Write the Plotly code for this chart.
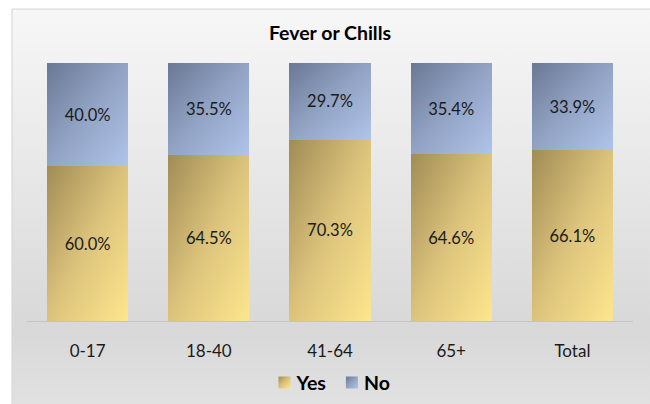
import plotly.graph_objects as go

# Share of respondents reporting fever or chills, by age group
age_groups = ["0-17", "18-40", "41-64", "65+", "Total"]
yes_pct = [60.0, 64.5, 70.3, 64.6, 66.1]
no_pct = [40.0, 35.5, 29.7, 35.4, 33.9]

FONT = "Lato, Carlito, 'Open Sans', sans-serif"

fig = go.Figure()
fig.add_trace(go.Bar(
    name="Yes", x=age_groups, y=yes_pct,
    marker=dict(color="#d6bf78", line=dict(width=0)),
    text=[f"{v:.1f}%" for v in yes_pct],
    textposition="inside", insidetextanchor="middle",
    textfont=dict(family=FONT, size=16.5, color="#1a1a1a"),
))
fig.add_trace(go.Bar(
    name="No", x=age_groups, y=no_pct,
    marker=dict(color="#8f9fc0", line=dict(width=0)),
    text=[f"{v:.1f}%" for v in no_pct],
    textposition="inside", insidetextanchor="middle",
    textfont=dict(family=FONT, size=16.5, color="#1a1a1a"),
))

# Chart-area panel behind everything (gradient applied in the browser)
fig.add_shape(
    type="rect", xref="paper", yref="paper", layer="below",
    x0=-0.0248, x1=1.04, y0=-0.35, y1=1.209,
    fillcolor="#e6e6e6", line=dict(color="#d4d4d4", width=1),
)

fig.update_layout(
    width=650, height=404,
    margin=dict(l=27, r=17, t=63, b=83, autoexpand=False),
    paper_bgcolor="white", plot_bgcolor="rgba(0,0,0,0)",
    barmode="stack", bargap=0.33,
    uniformtext=dict(mode=False),
    title=dict(
        text="<b>Fever or Chills</b>", x=0.5, xref="paper", xanchor="center",
        y=1 - 33 / 404, yref="container", yanchor="middle",
        font=dict(family=FONT, size=19.5, color="#000000"),
    ),
    xaxis=dict(
        showline=True, linecolor="#c4c4c4", linewidth=1,
        ticks="outside", ticklen=15, tickcolor="rgba(0,0,0,0)",
        tickfont=dict(family=FONT, size=17, color="#1a1a1a"),
        showgrid=False, zeroline=False,
    ),
    yaxis=dict(range=[0, 100], visible=False, showgrid=False, zeroline=False),
    showlegend=True,
    legend=dict(
        orientation="h", x=0.5, xanchor="center", xref="paper",
        y=-0.24, yanchor="middle", yref="paper",
        font=dict(family=FONT, size=19.5, color="#000000", weight="bold"),
        bgcolor="rgba(0,0,0,0)", itemwidth=30, traceorder="normal",
    ),
)

# Diagonal gradient fills for the bars, legend swatches and panel;
# legend labels sit closer to their swatches
post_js = """
var gd = document.getElementById('{plot_id}');
function paint() {
  var svg = gd.querySelector('svg.main-svg');
  if (!svg) return;
  var NS = 'http://www.w3.org/2000/svg';
  var defs = svg.querySelector('defs#fc-grads');
  if (!defs) {
    defs = document.createElementNS(NS, 'defs');
    defs.setAttribute('id', 'fc-grads');
    svg.insertBefore(defs, svg.firstChild);
    defs.innerHTML =
      '<linearGradient id="fcYes" x1="0" y1="0" x2="1" y2="1">' +
      '<stop offset="0" stop-color="#a08c55"/><stop offset="0.5" stop-color="#dcc37c"/>' +
      '<stop offset="1" stop-color="#fde68e"/></linearGradient>' +
      '<linearGradient id="fcNo" x1="0" y1="0" x2="1" y2="1">' +
      '<stop offset="0" stop-color="#6a7894"/><stop offset="0.5" stop-color="#92a3c4"/>' +
      '<stop offset="1" stop-color="#b0c4ea"/></linearGradient>' +
      '<linearGradient id="fcBg" x1="0" y1="0" x2="0" y2="1">' +
      '<stop offset="0" stop-color="#f7f7f7"/><stop offset="0.8" stop-color="#d8d8d8"/>' +
      '<stop offset="1" stop-color="#e2e2e2"/></linearGradient>';
  }
  var ids = ['fcYes', 'fcNo'];
  gd.querySelectorAll('.barlayer .trace.bars').forEach(function (t, i) {
    t.querySelectorAll('path').forEach(function (p) { p.style.fill = 'url(#' + ids[i] + ')'; });
  });
  gd.querySelectorAll('.legend .traces').forEach(function (t, i) {
    t.querySelectorAll('.legendpoints path').forEach(function (p) { p.style.fill = 'url(#' + ids[i] + ')'; });
    var txt = t.querySelector('text.legendtext');
    if (txt) txt.setAttribute('x', '32');
    if (i === 0 && !t.__fcShifted) {
      var tr = t.getAttribute('transform') || '';
      var m = /translate\\(([-\\d.]+)[ ,]+([-\\d.]+)\\)/.exec(tr);
      if (m) {
        t.setAttribute('transform', 'translate(' + (parseFloat(m[1]) + 8) + ',' + m[2] + ')');
        t.__fcShifted = true;
      }
    }
  });
  gd.querySelectorAll('.shapelayer path').forEach(function (p) { p.style.fill = 'url(#fcBg)'; p.style.fillOpacity = 1; });
}
paint();
gd.on('plotly_afterplot', paint);
"""

fig.write_html("out.html", post_script=post_js, config={"displayModeBar": False})
